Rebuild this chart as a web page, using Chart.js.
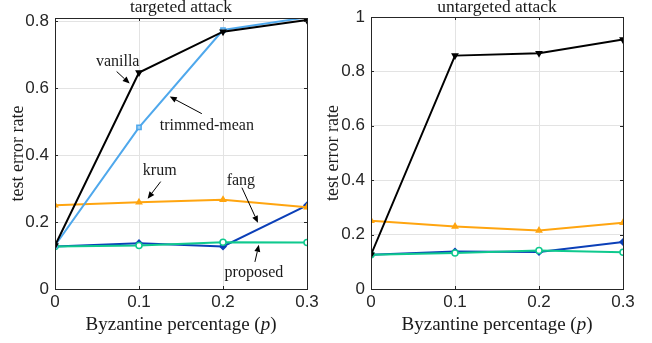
<!DOCTYPE html>
<html>
<head>
<meta charset="utf-8">
<script src="https://cdn.jsdelivr.net/npm/chart.js@4/dist/chart.umd.min.js"></script>
<style>
  html, body { margin: 0; padding: 0; background: #ffffff; }
  body { width: 652px; height: 343px; position: relative; overflow: hidden; }
  .wrap { position: absolute; top: 0; height: 343px; }
</style>
</head>
<body>
<div class="wrap" style="left:0;width:330px"><canvas id="c1"></canvas></div>
<div class="wrap" style="left:320px;width:332px"><canvas id="c2"></canvas></div>
<script>
// ---- data ----
const pValues = [0, 0.1, 0.2, 0.3];
const xTickLabels = ['0', '0.1', '0.2', '0.3'];
const seriesNames = ['vanilla', 'trimmed-mean', 'krum', 'fang', 'proposed'];

const targetedVanilla  = [0.13, 0.647, 0.769, 0.804];
const targetedTrimmed  = [0.13, 0.483, 0.774, 0.812];
const targetedKrum     = [0.25, 0.259, 0.267, 0.244];
const targetedFang     = [0.127, 0.137, 0.127, 0.25];
const targetedProposed = [0.127, 0.130, 0.140, 0.139];

const untargetedVanilla  = [0.126, 0.858, 0.867, 0.917];
const untargetedKrum     = [0.251, 0.230, 0.215, 0.244];
const untargetedFang     = [0.126, 0.138, 0.136, 0.173];
const untargetedProposed = [0.126, 0.132, 0.142, 0.135];

// annotations (data coordinates on the targeted panel)
const annoLabels = ['vanilla', 'trimmed-mean', 'krum', 'fang', 'proposed'];
const annoTextX  = [0.0746, 0.1807, 0.1247, 0.2213, 0.2368];
const annoTextY  = [0.680, 0.488, 0.354, 0.324, 0.048];
const annoFromX  = [0.0734, 0.1748, 0.1258, 0.2225, 0.2380];
const annoFromY  = [0.650, 0.524, 0.321, 0.303, 0.081];
const annoToX    = [0.0889, 0.1366, 0.1103, 0.2416, 0.2427];
const annoToY    = [0.614, 0.575, 0.270, 0.198, 0.132];

// ---- styles ----
const styles = {
  'vanilla':      { color: '#000000', point: 'triangle', rotation: 180, fill: '#000000', order: 1 },
  'trimmed-mean': { color: '#4FA8EC', point: 'rect', rotation: 0, fill: '#9fd0f5', order: 2 },
  'krum':         { color: '#FFA510', point: 'triangle', rotation: 0, fill: '#FFA510', order: 3 },
  'fang':         { color: '#0B3FB8', point: 'rectRot', rotation: 0, fill: '#0B3FB8', order: 5 },
  'proposed':     { color: '#0FC98E', point: 'circle', rotation: 0, fill: '#ffffff', order: 4 }
};

function makeDataset(name, values) {
  const s = styles[name];
  return {
    label: name,
    data: pValues.map((p, i) => ({ x: p, y: values[i] })),
    borderColor: s.color,
    backgroundColor: s.fill,
    pointBorderColor: s.color,
    pointBackgroundColor: s.fill,
    pointStyle: s.point,
    rotation: s.rotation,
    pointRadius: 3,
    pointBorderWidth: 1.5,
    borderWidth: 2,
    tension: 0,
    order: s.order
  };
}

const serif = "'Liberation Serif', 'Times New Roman', serif";
const sans = "'Liberation Sans', Arial, sans-serif";

// plugin: frame box, inward ticks, titles, x-axis title with italic p, annotations
const framePlugin = {
  id: 'frame',
  afterDatasetsDraw(chart, args, opts) {
    const ctx = chart.ctx;
    const a = chart.chartArea;
    const xs = chart.scales.x, ys = chart.scales.y;
    ctx.save();
    ctx.strokeStyle = '#262626';
    ctx.lineWidth = 1;
    ctx.strokeRect(Math.round(a.left) + 0.5, Math.round(a.top) + 0.5,
                   Math.round(a.right - a.left), Math.round(a.bottom - a.top));
    ctx.beginPath();
    xs.ticks.forEach(t => {
      const px = Math.round(xs.getPixelForValue(t.value)) + 0.5;
      ctx.moveTo(px, a.bottom); ctx.lineTo(px, a.bottom - 3);
      ctx.moveTo(px, a.top); ctx.lineTo(px, a.top + 3);
    });
    ys.ticks.forEach(t => {
      const py = Math.round(ys.getPixelForValue(t.value)) + 0.5;
      ctx.moveTo(a.left, py); ctx.lineTo(a.left + 3, py);
      ctx.moveTo(a.right, py); ctx.lineTo(a.right - 3, py);
    });
    ctx.stroke();

    const cx = (a.left + a.right) / 2;
    ctx.fillStyle = '#1a1a1a';
    ctx.font = '17.5px ' + serif;
    ctx.textAlign = 'center';
    ctx.textBaseline = 'alphabetic';
    ctx.fillText(opts.title, cx, 12);

    const f1 = '19px ' + serif, f2 = 'italic 19px ' + serif;
    const parts = [['Byzantine percentage (', f1], ['p', f2], [')', f1]];
    let total = 0;
    parts.forEach(p => { ctx.font = p[1]; total += ctx.measureText(p[0]).width; });
    let x0 = cx - total / 2;
    ctx.textAlign = 'left';
    parts.forEach(p => { ctx.font = p[1]; ctx.fillText(p[0], x0, 330); x0 += ctx.measureText(p[0]).width; });

    if (opts.annotate) {
      ctx.font = '16px ' + serif;
      ctx.textAlign = 'center';
      ctx.textBaseline = 'middle';
      annoLabels.forEach((lab, i) => {
        ctx.fillStyle = '#1a1a1a';
        ctx.fillText(lab, xs.getPixelForValue(annoTextX[i]), ys.getPixelForValue(annoTextY[i]));
        const fx = xs.getPixelForValue(annoFromX[i]), fy = ys.getPixelForValue(annoFromY[i]);
        const tx = xs.getPixelForValue(annoToX[i]), ty = ys.getPixelForValue(annoToY[i]);
        const ang = Math.atan2(ty - fy, tx - fx);
        const hl = 7, hw = 3;
        const bx = tx - hl * Math.cos(ang), by = ty - hl * Math.sin(ang);
        ctx.strokeStyle = '#000';
        ctx.lineWidth = 1;
        ctx.beginPath(); ctx.moveTo(fx, fy); ctx.lineTo(bx, by); ctx.stroke();
        ctx.beginPath();
        ctx.moveTo(tx, ty);
        ctx.lineTo(bx + hw * Math.sin(ang), by - hw * Math.cos(ang));
        ctx.lineTo(bx - hw * Math.sin(ang), by + hw * Math.cos(ang));
        ctx.closePath();
        ctx.fillStyle = '#000';
        ctx.fill();
      });
    }
    ctx.restore();
  }
};

function makeOptions(cfg) {
  return {
    responsive: true,
    maintainAspectRatio: false,
    animation: false,
    devicePixelRatio: 1,
    layout: { padding: { left: 0, right: cfg.padRight, top: cfg.padTop, bottom: 0 } },
    plugins: {
      legend: { display: false },
      tooltip: { enabled: false },
      title: { display: false },
      frame: { title: cfg.title, annotate: cfg.annotate }
    },
    scales: {
      x: {
        type: 'linear', min: 0, max: 0.3,
        afterBuildTicks: s => { s.ticks = pValues.map(v => ({ value: v })); },
        ticks: {
          callback: (v) => xTickLabels[pValues.indexOf(Math.round(v * 10) / 10)],
          font: { family: sans, size: 17 }, color: '#262626', padding: 3,
          maxRotation: 0, autoSkip: false
        },
        grid: { color: '#e3e3e3', lineWidth: 1, drawTicks: false },
        border: { display: false },
        afterFit: s => { s.height = 54; }
      },
      y: {
        type: 'linear', min: 0, max: cfg.yMax,
        afterBuildTicks: s => { s.ticks = cfg.yTicks.map(v => ({ value: v })); },
        ticks: {
          callback: (v) => cfg.yTickLabels[cfg.yTicks.indexOf(Math.round(v * 10) / 10)],
          font: { family: sans, size: 17 }, color: '#262626', padding: 6
        },
        grid: { color: '#e3e3e3', lineWidth: 1, drawTicks: false },
        border: { display: false },
        title: {
          display: true, text: 'test error rate',
          font: { family: serif, size: 18 }, color: '#1a1a1a',
          padding: { top: cfg.yTitlePad, bottom: 0 }
        },
        afterFit: s => { s.width = cfg.yWidth; }
      }
    }
  };
}

Chart.register(framePlugin);

new Chart(document.getElementById('c1'), {
  type: 'line',
  data: {
    datasets: [
      makeDataset('vanilla', targetedVanilla),
      makeDataset('trimmed-mean', targetedTrimmed),
      makeDataset('krum', targetedKrum),
      makeDataset('fang', targetedFang),
      makeDataset('proposed', targetedProposed)
    ]
  },
  options: makeOptions({
    title: 'targeted attack', annotate: true,
    padRight: 23, padTop: 18, yMax: 0.81, yWidth: 55, yTitlePad: 7,
    yTicks: [0, 0.2, 0.4, 0.6, 0.8], yTickLabels: ['0', '0.2', '0.4', '0.6', '0.8']
  })
});

new Chart(document.getElementById('c2'), {
  type: 'line',
  data: {
    datasets: [
      makeDataset('vanilla', untargetedVanilla),
      makeDataset('krum', untargetedKrum),
      makeDataset('fang', untargetedFang),
      makeDataset('proposed', untargetedProposed)
    ]
  },
  options: makeOptions({
    title: 'untargeted attack', annotate: false,
    padRight: 29, padTop: 17, yMax: 1, yWidth: 51, yTitlePad: 2,
    yTicks: [0, 0.2, 0.4, 0.6, 0.8, 1], yTickLabels: ['0', '0.2', '0.4', '0.6', '0.8', '1']
  })
});
</script>
</body>
</html>
